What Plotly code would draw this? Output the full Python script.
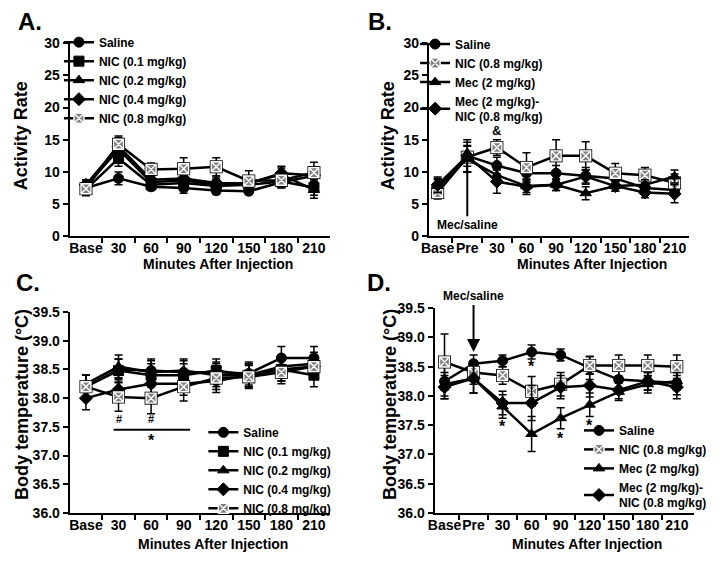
import plotly.graph_objects as go

# ---------------- data ----------------
cats_A = ["Base", "30", "60", "90", "120", "150", "180", "210"]
cats_B = ["Base", "Pre", "30", "60", "90", "120", "150", "180", "210"]

# Panel A: activity rate
names_A = ["Saline", "NIC (0.1 mg/kg)", "NIC (0.2 mg/kg)", "NIC (0.4 mg/kg)", "NIC (0.8 mg/kg)"]
a_saline = [7.5, 9.0, 7.7, 7.5, 7.1, 7.0, 8.4, 9.4]
a_nic01 = [7.3, 12.1, 8.0, 8.3, 7.8, 8.0, 8.5, 7.6]
a_nic02 = [7.8, 13.5, 8.4, 8.7, 8.0, 8.3, 9.6, 7.2]
a_nic04 = [8.0, 14.0, 8.8, 9.0, 8.3, 8.2, 9.8, 9.5]
a_nic08 = [7.4, 14.3, 10.4, 10.5, 10.8, 8.6, 8.7, 9.9]
a_saline_err = [0.8, 1.0, 0.6, 0.8, 0.6, 0.5, 0.8, 1.0]
a_nic01_err = [1.0, 1.2, 0.7, 0.8, 0.8, 0.7, 0.8, 1.2]
a_nic02_err = [0.8, 1.2, 0.8, 0.9, 0.9, 0.8, 1.0, 1.3]
a_nic04_err = [0.8, 1.3, 0.8, 1.0, 0.9, 0.8, 1.1, 1.2]
a_nic08_err = [0.9, 1.3, 1.0, 1.7, 1.4, 1.6, 1.2, 1.6]

# Panel B: activity rate with mecamylamine
names_B = ["Saline", "NIC (0.8 mg/kg)", "Mec (2 mg/kg)", "Mec (2 mg/kg)-<br>NIC (0.8 mg/kg)"]
b_saline = [7.5, 12.5, 11.0, 9.8, 9.8, 9.4, 9.0, 7.5, 7.2]
b_nic08 = [6.8, 12.3, 13.8, 10.7, 12.5, 12.5, 9.8, 9.5, 8.3]
b_mec = [7.8, 12.0, 9.5, 7.8, 8.0, 6.7, 7.8, 8.0, 9.3]
b_mecnic = [8.0, 12.5, 8.5, 7.7, 8.0, 9.3, 7.8, 6.8, 6.6]
b_saline_err = [1.5, 1.6, 1.3, 1.2, 1.2, 1.3, 1.0, 0.8, 0.9]
b_nic08_err = [1.0, 2.3, 1.2, 2.3, 2.5, 2.2, 1.5, 1.2, 1.4]
b_mec_err = [1.0, 2.0, 1.0, 1.0, 0.9, 1.0, 0.8, 0.8, 1.0]
b_mecnic_err = [1.2, 2.5, 1.8, 1.2, 0.9, 1.0, 0.8, 0.8, 1.4]

# Panel C: body temperature
c_saline = [38.20, 38.50, 38.48, 38.45, 38.45, 38.43, 38.70, 38.70]
c_nic01 = [38.20, 38.48, 38.40, 38.40, 38.48, 38.40, 38.50, 38.40]
c_nic02 = [38.25, 38.55, 38.45, 38.48, 38.40, 38.40, 38.55, 38.60]
c_nic04 = [38.00, 38.15, 38.25, 38.25, 38.30, 38.40, 38.50, 38.55]
c_nic08 = [38.20, 38.02, 38.00, 38.20, 38.35, 38.37, 38.45, 38.55]
c_saline_err = [0.20, 0.18, 0.20, 0.20, 0.18, 0.20, 0.20, 0.20]
c_nic01_err = [0.20, 0.20, 0.20, 0.20, 0.20, 0.20, 0.20, 0.20]
c_nic02_err = [0.15, 0.20, 0.20, 0.20, 0.20, 0.20, 0.20, 0.20]
c_nic04_err = [0.20, 0.20, 0.25, 0.20, 0.20, 0.20, 0.20, 0.20]
c_nic08_err = [0.20, 0.25, 0.27, 0.25, 0.20, 0.20, 0.20, 0.20]

# Panel D: body temperature with mecamylamine
d_saline = [38.25, 38.55, 38.60, 38.75, 38.70, 38.48, 38.28, 38.25, 38.22]
d_nic08 = [38.58, 38.40, 38.35, 38.08, 38.20, 38.52, 38.52, 38.52, 38.50]
d_mec = [38.20, 38.30, 37.82, 37.35, 37.62, 37.85, 38.07, 38.20, 38.25]
d_mecnic = [38.15, 38.30, 37.88, 37.88, 38.15, 38.18, 38.10, 38.25, 38.15]
d_saline_err = [0.30, 0.15, 0.10, 0.12, 0.10, 0.20, 0.15, 0.15, 0.20]
d_nic08_err = [0.48, 0.20, 0.15, 0.25, 0.20, 0.15, 0.18, 0.18, 0.20]
d_mec_err = [0.20, 0.25, 0.20, 0.30, 0.18, 0.20, 0.15, 0.15, 0.15]
d_mecnic_err = [0.20, 0.25, 0.20, 0.30, 0.20, 0.20, 0.15, 0.15, 0.20]

# ---------------- styling ----------------
FONT = "Liberation Sans"
PAGE_MARGIN = 8          # default body margin of the html page
W, H = 720 - 2 * PAGE_MARGIN, 561 - 2 * PAGE_MARGIN

def px_x(p):
    return (p - PAGE_MARGIN) / W

def px_y(p):
    return 1 - (p - PAGE_MARGIN) / H

sym = {
    "circle": dict(symbol="circle", color="black", line=dict(color="black", width=1)),
    "square": dict(symbol="square", color="black", line=dict(color="black", width=1)),
    "tri": dict(symbol="triangle-up", color="black", line=dict(color="black", width=1)),
    "diamond": dict(symbol="diamond", color="black", line=dict(color="black", width=1)),
    "xsq": dict(symbol="square-x", color="#808080", line=dict(color="white", width=1.4)),
}

fig = go.Figure()

def add(xa, ya, cats, vals, errs, name, mk, legend, size=10):
    xs = list(range(len(cats)))
    if mk == "xsq":
        # dark frame behind the grey crossed square
        fig.add_trace(go.Scatter(
            x=xs, y=vals, mode="markers", xaxis=xa, yaxis=ya, showlegend=False,
            hoverinfo="skip", cliponaxis=False,
            marker=dict(symbol="square", size=size + 3, color="black"),
        ))
    m = dict(sym[mk])
    m["size"] = size
    fig.add_trace(go.Scatter(
        x=xs, y=vals, name=name, mode="lines+markers",
        xaxis=xa, yaxis=ya, legend=legend,
        line=dict(color="black", width=2.5),
        marker=m,
        error_y=dict(type="data", array=errs, color="black", thickness=1.5, width=4),
        cliponaxis=False,
    ))

marks_A = ["circle", "square", "tri", "diamond", "xsq"]
for vals, errs, nm, mk in zip([a_saline, a_nic01, a_nic02, a_nic04, a_nic08],
                              [a_saline_err, a_nic01_err, a_nic02_err, a_nic04_err, a_nic08_err],
                              names_A, marks_A):
    add("x", "y", cats_A, vals, errs, nm, mk, "legend")

marks_B = ["circle", "xsq", "tri", "diamond"]
for vals, errs, nm, mk in zip([b_saline, b_nic08, b_mec, b_mecnic],
                              [b_saline_err, b_nic08_err, b_mec_err, b_mecnic_err],
                              names_B, marks_B):
    add("x2", "y2", cats_B, vals, errs, nm, mk, "legend2")

for vals, errs, nm, mk in zip([c_saline, c_nic01, c_nic02, c_nic04, c_nic08],
                              [c_saline_err, c_nic01_err, c_nic02_err, c_nic04_err, c_nic08_err],
                              names_A, marks_A):
    add("x3", "y3", cats_A, vals, errs, nm, mk, "legend3")

for vals, errs, nm, mk in zip([d_saline, d_nic08, d_mec, d_mecnic],
                              [d_saline_err, d_nic08_err, d_mec_err, d_mecnic_err],
                              names_B, marks_B):
    add("x4", "y4", cats_B, vals, errs, nm, mk, "legend4")

tickfont = dict(family=FONT, size=14, color="black", weight="bold")

def xaxis(cats, dom, rng, anchor):
    n = len(cats)
    return dict(
        domain=dom, range=rng, anchor=anchor,
        tickmode="array", tickvals=list(range(n)), ticktext=cats, tickangle=0,
        ticks="", showline=True, linecolor="black", linewidth=2,
        showgrid=False, zeroline=False, tickfont=tickfont, ticklabelstandoff=-2,
        minor=dict(tickmode="array", tickvals=[i + 0.5 for i in range(n - 1)],
                   ticks="outside", ticklen=5, tickwidth=2, tickcolor="black", showgrid=False),
    )

def yaxis(dom, rng, dtick, anchor, fmt=None):
    d = dict(
        domain=dom, range=rng, anchor=anchor, dtick=dtick, tick0=rng[0],
        ticks="outside", ticklen=5, tickwidth=2, tickcolor="black",
        showline=True, linecolor="black", linewidth=2,
        showgrid=False, zeroline=False, tickfont=tickfont,
    )
    if fmt:
        d["tickformat"] = fmt
    return d

legfont = dict(family=FONT, size=12, color="black", weight="bold")

def legend(xp, yp):
    return dict(x=px_x(xp), y=px_y(yp), xanchor="left", yanchor="top",
                bgcolor="rgba(0,0,0,0)", borderwidth=0, font=legfont,
                itemwidth=30, tracegroupgap=0, itemclick=False)

fig.update_layout(
    width=W, height=H,
    margin=dict(l=0, r=0, t=0, b=0),
    paper_bgcolor="white", plot_bgcolor="white",
    font=dict(family=FONT, color="black", weight="bold"),
    xaxis=xaxis(cats_A, [px_x(63), px_x(330)], [-0.5, 7.5], "y"),
    yaxis=yaxis([px_y(235), px_y(36)], [0, 30], 5, "x"),
    xaxis2=xaxis(cats_B, [px_x(431), px_x(698)], [-0.3, 8.5], "y2"),
    yaxis2=yaxis([px_y(235), px_y(36)], [0, 30], 5, "x2"),
    xaxis3=xaxis(cats_A, [px_x(63), px_x(330)], [-0.5, 7.5], "y3"),
    yaxis3=yaxis([px_y(520), px_y(313)], [36, 39.5], 0.5, "x3", ".1f"),
    xaxis4=xaxis(cats_B, [px_x(437), px_x(703)], [-0.34, 8.6], "y4"),
    yaxis4=yaxis([px_y(520), px_y(309)], [36, 39.5], 0.5, "x4", ".1f"),
    legend=legend(52, 20),
    legend2=legend(417, 22),
    legend3=legend(200, 422),
    legend4=legend(585, 420),
)

ann = []
def txt(x, y, s, size, angle=0, xref="paper", yref="paper"):
    ann.append(dict(x=x, y=y, xref=xref, yref=yref, text=s, showarrow=False,
                    textangle=angle, font=dict(family=FONT, size=size, color="black", weight="bold"),
                    xanchor="center", yanchor="middle"))

# panel letters
txt(px_x(22), px_y(14), "A.", 24)
txt(px_x(381), px_y(14), "B.", 24)
txt(px_x(20), px_y(283), "C.", 24)
txt(px_x(380), px_y(283), "D.", 24)
# axis titles
txt(px_x(14), px_y(131), "Activity Rate", 18, -90)
txt(px_x(390), px_y(131), "Activity Rate", 18, -90)
txt(px_x(14), px_y(408), "Body temperature (°C)", 18, -90)
txt(px_x(392), px_y(408), "Body temperature (°C)", 18, -90)
txt(px_x(215), px_y(264), "Minutes After Injection", 14)
txt(px_x(598), px_y(264), "Minutes After Injection", 14)
txt(px_x(210), px_y(552), "Minutes After Injection", 14)
txt(px_x(593), px_y(552), "Minutes After Injection", 14)

# significance marks
txt(2, 16.4, "&", 13, xref="x2", yref="y2")
txt(1, 37.64, "#", 11, xref="x3", yref="y3")
txt(2, 37.64, "#", 11, xref="x3", yref="y3")
txt(2, 37.27, "*", 16, xref="x3", yref="y3")
txt(2, 37.47, "*", 16, xref="x4", yref="y4")
txt(3, 38.50, "*", 16, xref="x4", yref="y4")
txt(4, 38.57, "*", 16, xref="x4", yref="y4")
txt(4, 37.27, "*", 16, xref="x4", yref="y4")
txt(5, 37.50, "*", 16, xref="x4", yref="y4")

# arrows
ann.append(dict(x=1, y=14.0, xref="x2", yref="y2", ax=1, ay=1.8, axref="x2", ayref="y2",
                text="Mec/saline", showarrow=True, arrowhead=2, arrowsize=1.3, arrowwidth=2,
                arrowcolor="black", font=dict(family=FONT, size=12, color="black", weight="bold")))
ann.append(dict(x=1, y=38.75, xref="x4", yref="y4", ax=1, ay=39.7, axref="x4", ayref="y4",
                text="Mec/saline", showarrow=True, arrowhead=2, arrowsize=1.3, arrowwidth=2,
                arrowcolor="black", font=dict(family=FONT, size=12, color="black", weight="bold")))
fig.update_layout(annotations=ann)

fig.add_shape(type="line", xref="x3", yref="y3", x0=0.85, x1=3.2, y0=37.45, y1=37.45,
              line=dict(color="black", width=2))

fig.write_html("out.html", config={"displayModeBar": False})
